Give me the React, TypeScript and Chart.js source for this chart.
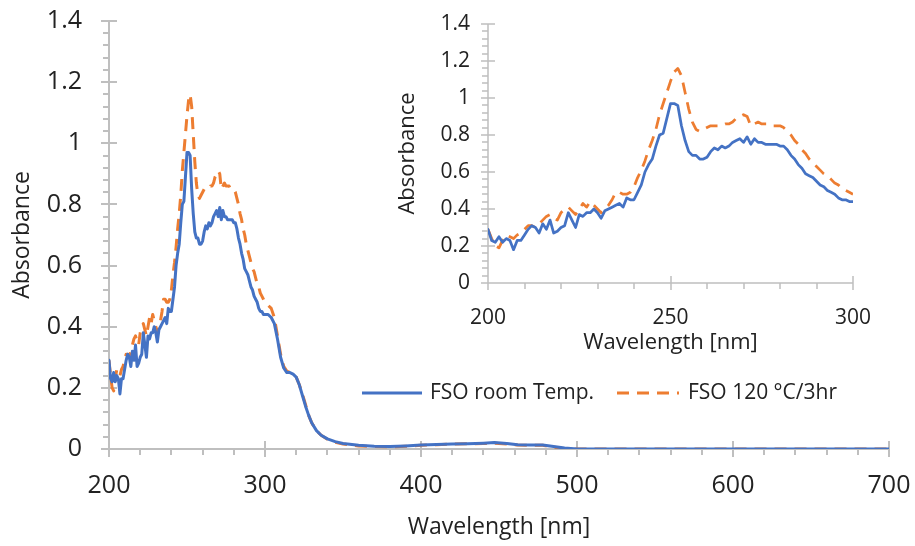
import { useEffect, useRef } from 'react';
import { Chart, registerables } from 'chart.js';

Chart.register(...registerables);

// ---------- data ----------
const wavelengths = [
  200, 201, 202, 203, 204, 205, 206, 207, 208, 209,
  210, 211, 212, 213, 214, 215, 216, 217, 218, 219,
  220, 221, 222, 223, 224, 225, 226, 227, 228, 229,
  230, 231, 232, 233, 234, 235, 236, 237, 238, 239,
  240, 241, 242, 243, 244, 245, 246, 247, 248, 249,
  250, 251, 252, 253, 254, 255, 256, 257, 258, 259,
  260, 261, 262, 263, 264, 265, 266, 267, 268, 269,
  270, 271, 272, 273, 274, 275, 276, 277, 278, 279,
  280, 281, 282, 283, 284, 285, 286, 287, 288, 289,
  290, 291, 292, 293, 294, 295, 296, 297, 298, 299,
  300, 302, 304, 306, 308, 310, 312, 314, 316, 318,
  320, 322, 324, 326, 328, 330, 333, 336, 340, 345,
  350, 360, 370, 380, 390, 400, 410, 420, 430, 440,
  447, 455, 462, 470, 478, 485, 492, 500, 520, 540,
  560, 580, 600, 620, 640, 660, 680, 700,
];

const roomTemp = [
  0.29, 0.23, 0.22, 0.25, 0.22, 0.24, 0.23, 0.18, 0.23, 0.23,
  0.26, 0.29, 0.31, 0.30, 0.27, 0.32, 0.29, 0.34, 0.27, 0.28,
  0.30, 0.31, 0.38, 0.34, 0.30, 0.37, 0.36, 0.38, 0.38, 0.40,
  0.38, 0.35, 0.39, 0.40, 0.41, 0.42, 0.43, 0.41, 0.46, 0.45,
  0.45, 0.49, 0.53, 0.60, 0.64, 0.67, 0.74, 0.80, 0.81, 0.89,
  0.97, 0.97, 0.96, 0.85, 0.77, 0.71, 0.69, 0.69, 0.67, 0.67,
  0.68, 0.71, 0.73, 0.72, 0.74, 0.73, 0.74, 0.76, 0.77, 0.78,
  0.76, 0.79, 0.75, 0.78, 0.76, 0.76, 0.75, 0.75, 0.75, 0.75,
  0.74, 0.74, 0.72, 0.69, 0.67, 0.64, 0.62, 0.59, 0.58, 0.57,
  0.55, 0.53, 0.52, 0.50, 0.49, 0.48, 0.46, 0.45, 0.45, 0.44,
  0.44, 0.44, 0.43, 0.41, 0.36, 0.30, 0.265, 0.25, 0.25, 0.245,
  0.235, 0.21, 0.175, 0.14, 0.11, 0.085, 0.06, 0.045, 0.033, 0.024,
  0.018, 0.012, 0.009, 0.008, 0.010, 0.013, 0.015, 0.016, 0.017, 0.019,
  0.021, 0.018, 0.014, 0.013, 0.013, 0.008, 0.003, 0.0, 0.0, 0.0,
  0.0, 0.0, 0.0, 0.0, 0.0, 0.0, 0.0, 0.0,
];

const heated = [
  0.29, 0.24, 0.20, 0.19, 0.23, 0.26, 0.25, 0.24, 0.26, 0.27,
  0.29, 0.31, 0.31, 0.30, 0.32, 0.34, 0.36, 0.37, 0.35, 0.34,
  0.38, 0.40, 0.41, 0.39, 0.37, 0.40, 0.43, 0.41, 0.44, 0.42,
  0.40, 0.38, 0.40, 0.42, 0.45, 0.49, 0.49, 0.48, 0.48, 0.49,
  0.52, 0.57, 0.61, 0.66, 0.72, 0.77, 0.83, 0.91, 0.97, 1.03,
  1.09, 1.14, 1.16, 1.12, 1.03, 0.94, 0.87, 0.83, 0.82, 0.83,
  0.84, 0.85, 0.85, 0.85, 0.85, 0.86, 0.86, 0.87, 0.89, 0.90,
  0.91, 0.90, 0.85, 0.86, 0.87, 0.86, 0.86, 0.86, 0.85, 0.85,
  0.85, 0.84, 0.82, 0.80, 0.77, 0.75, 0.72, 0.70, 0.67, 0.65,
  0.63, 0.61, 0.59, 0.58, 0.56, 0.54, 0.53, 0.51, 0.50, 0.49,
  0.48, 0.47, 0.46, 0.43, 0.37, 0.31, 0.27, 0.255, 0.25, 0.245,
  0.235, 0.21, 0.18, 0.145, 0.11, 0.085, 0.06, 0.045, 0.032, 0.022,
  0.016, 0.010, 0.008, 0.007, 0.009, 0.012, 0.014, 0.016, 0.017, 0.018,
  0.019, 0.016, 0.013, 0.012, 0.012, 0.006, 0.001, 0.0, 0.0, 0.0,
  0.0, 0.0, 0.0, 0.0, 0.0, 0.0, 0.0, 0.0,
];

const seriesLabels = ['FSO room Temp.', 'FSO 120 °C/3hr'];
const seriesColors = ['#4472C4', '#ED7D31'];
const xTitle = 'Wavelength [nm]';
const yTitle = 'Absorbance';
const mainXRange = [200, 700];
const insetXRange = [200, 300];
const yRange = [0, 1.4];

// ---------- styling ----------
const FONT = '"Open Sans", "DejaVu Sans", sans-serif';
const TEXT = '#222222';
const AXIS = '#bfbfbf';
const DASH = [12, 8];

const fmt = (v: number) => String(Math.round(v * 10) / 10);

const axisDecor = {
  id: 'axisDecor',
  beforeDatasetsDraw(chart: any, _args: any, o: any) {
    const { ctx, chartArea, scales } = chart;
    const { left, right, top, bottom } = chartArea;
    const x = scales.x;
    const y = scales.y;
    ctx.save();
    ctx.strokeStyle = o.color;
    ctx.lineWidth = o.width;
    ctx.beginPath();
    ctx.moveTo(left, top);
    ctx.lineTo(left, bottom);
    ctx.moveTo(left, bottom);
    ctx.lineTo(right, bottom);
    const isMajor = (v: number, step: number) => Math.abs(v / step - Math.round(v / step)) < 1e-6;
    const nx = Math.round((x.max - x.min) / o.xMinor);
    for (let i = 0; i <= nx; i++) {
      const v = x.min + i * o.xMinor;
      const px = Math.round(x.getPixelForValue(v));
      if (isMajor(v, o.xMajor)) {
        ctx.moveTo(px, bottom - o.majorIn);
        ctx.lineTo(px, bottom + o.majorOut);
      } else {
        ctx.moveTo(px, bottom);
        ctx.lineTo(px, bottom + o.minorOut);
      }
    }
    const ny = Math.round((y.max - y.min) / o.yMinor);
    for (let i = 0; i <= ny; i++) {
      const v = y.min + i * o.yMinor;
      const py = Math.round(y.getPixelForValue(v));
      if (isMajor(v, o.yMajor)) {
        ctx.moveTo(left - o.majorOut, py);
        ctx.lineTo(left + o.majorIn, py);
      } else {
        ctx.moveTo(left - o.minorOut, py);
        ctx.lineTo(left, py);
      }
    }
    ctx.stroke();
    ctx.restore();
  },
};

const lineLegend = {
  id: 'lineLegend',
  afterDraw(chart: any, _args: any, o: any) {
    if (!o || !o.items) return;
    const { ctx } = chart;
    ctx.save();
    ctx.font = `${o.fontSize}px ${FONT}`;
    ctx.textBaseline = 'middle';
    ctx.textAlign = 'left';
    chart.data.datasets.forEach((ds: any, i: number) => {
      const it = o.items[i];
      ctx.strokeStyle = ds.borderColor;
      ctx.lineWidth = ds.borderWidth;
      ctx.setLineDash(ds.borderDash || []);
      ctx.beginPath();
      ctx.moveTo(it.x0, o.y);
      ctx.lineTo(it.x1, o.y);
      ctx.stroke();
      ctx.setLineDash([]);
      ctx.fillStyle = TEXT;
      ctx.fillText(ds.label, it.tx, o.y);
    });
    ctx.restore();
  },
};

function makeDatasets(maxX: number, width: number) {
  const pts = (vals: number[]) =>
    wavelengths
      .map((w, i) => ({ x: w, y: vals[i] }))
      .filter((p) => p.x <= maxX);
  return [
    {
      label: seriesLabels[0],
      data: pts(roomTemp),
      borderColor: seriesColors[0],
      backgroundColor: seriesColors[0],
      borderWidth: width,
      pointRadius: 0,
      tension: 0,
      borderJoinStyle: 'round',
      borderCapStyle: 'round',
    },
    {
      label: seriesLabels[1],
      data: pts(heated),
      borderColor: seriesColors[1],
      backgroundColor: seriesColors[1],
      borderWidth: width,
      borderDash: DASH,
      pointRadius: 0,
      tension: 0,
      borderJoinStyle: 'round',
    },
  ];
}

const zeroPad = (s: any) => {
  s.paddingTop = 0;
  s.paddingBottom = 0;
  s.paddingLeft = 0;
  s.paddingRight = 0;
};

function makeConfig(opts: any): any {
  return {
    type: 'line',
    data: { datasets: makeDatasets(opts.xRange[1], opts.lineWidth) },
    options: {
      responsive: false,
      animation: false,
      devicePixelRatio: 1,
      layout: { padding: opts.padding },
      plugins: {
        legend: { display: false },
        tooltip: { enabled: false },
        axisDecor: opts.decor,
        lineLegend: opts.legend || false,
      },
      scales: {
        x: {
          type: 'linear',
          min: opts.xRange[0],
          max: opts.xRange[1],
          grid: { display: false, drawTicks: false },
          border: { display: false },
          ticks: {
            stepSize: opts.xStep,
            padding: opts.xTickPad,
            color: TEXT,
            font: { family: FONT, size: opts.tickSize },
            maxRotation: 0,
            callback: (v: number) => fmt(v),
          },
          title: {
            display: true,
            text: xTitle,
            color: TEXT,
            font: { family: FONT, size: opts.titleSize },
            padding: { top: 0, bottom: opts.xTitlePad },
          },
          afterFit: (s: any) => {
            s.height = opts.xHeight;
            zeroPad(s);
          },
        },
        y: {
          min: yRange[0],
          max: yRange[1],
          grid: { display: false, drawTicks: false },
          border: { display: false },
          ticks: {
            stepSize: 0.2,
            padding: opts.yTickPad,
            color: TEXT,
            font: { family: FONT, size: opts.tickSize },
            callback: (v: number) => fmt(v),
          },
          title: {
            display: true,
            text: yTitle,
            color: TEXT,
            font: { family: FONT, size: opts.titleSize },
            padding: { top: opts.yTitlePad, bottom: 0 },
          },
          afterFit: (s: any) => {
            s.width = opts.yWidth;
            zeroPad(s);
          },
        },
      },
    },
    plugins: [axisDecor, lineLegend],
  };
}

export default function App() {
  const mainRef = useRef<HTMLCanvasElement>(null);
  const insetRef = useRef<HTMLCanvasElement>(null);

  useEffect(() => {
    const main = new Chart(
      mainRef.current as HTMLCanvasElement,
      makeConfig({
        xRange: mainXRange,
        xStep: 100,
        lineWidth: 3,
        padding: { left: 0, top: 21, right: 26, bottom: 0 },
        tickSize: 25,
        titleSize: 23,
        xTickPad: 22,
        yTickPad: 27,
        xTitlePad: 5,
        yTitlePad: 9,
        xHeight: 97,
        yWidth: 109,
        decor: { color: AXIS, width: 2, xMinor: 20, xMajor: 100, yMinor: 0.04, yMajor: 0.2, majorIn: 8, majorOut: 8, minorOut: 6 },
        legend: {
          fontSize: 21,
          y: 393,
          items: [
            { x0: 362, x1: 422, tx: 430 },
            { x0: 617, x1: 679, tx: 688 },
          ],
        },
      })
    );
    const inset = new Chart(
      insetRef.current as HTMLCanvasElement,
      makeConfig({
        xRange: insetXRange,
        xStep: 50,
        lineWidth: 2.75,
        padding: { left: 0, top: 24, right: 47, bottom: 0 },
        tickSize: 21,
        titleSize: 22,
        xTickPad: 22,
        yTickPad: 18,
        xTitlePad: 4,
        yTitlePad: 15,
        xHeight: 77,
        yWidth: 108,
        decor: { color: AXIS, width: 1.5, xMinor: 10, xMajor: 50, yMinor: 0.04, yMajor: 0.2, majorIn: 7, majorOut: 7, minorOut: 6 },
      })
    );
    return () => {
      main.destroy();
      inset.destroy();
    };
  }, []);

  return (
    <div style={{ position: 'absolute', left: 0, top: 0, width: 915, height: 546, background: '#ffffff' }}>
      <canvas ref={mainRef} width={915} height={546} style={{ position: 'absolute', left: 0, top: 0 }} />
      <canvas ref={insetRef} width={520} height={360} style={{ position: 'absolute', left: 380, top: 0 }} />
    </div>
  );
}
